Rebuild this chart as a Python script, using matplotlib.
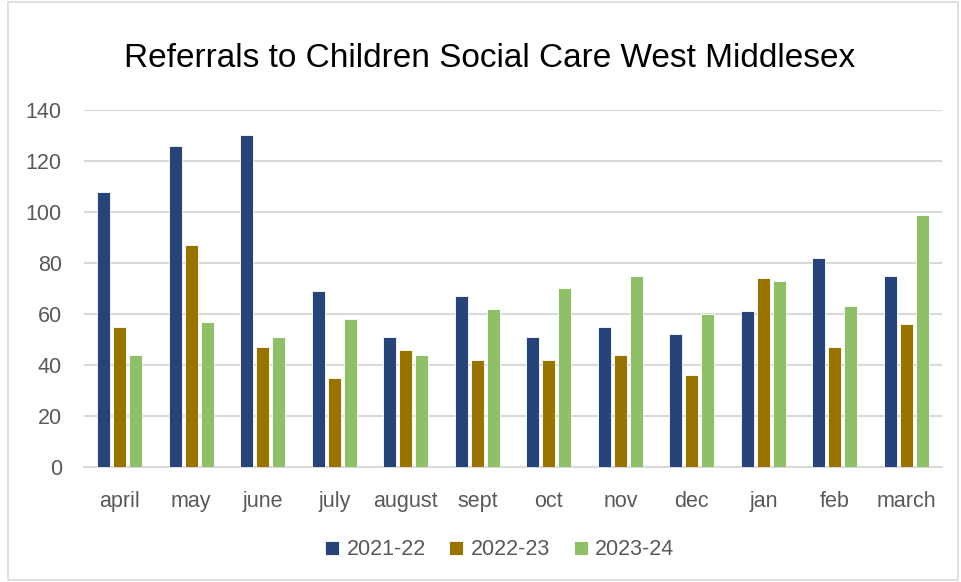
import numpy as np
from matplotlib import pyplot as plt
from matplotlib.patches import Rectangle

months = ['april', 'may', 'june', 'july', 'august', 'sept', 'oct',
          'nov', 'dec', 'jan', 'feb', 'march']
y2021_22 = [108, 126, 130, 69, 51, 67, 51, 55, 52, 61, 82, 75]
y2022_23 = [55, 87, 47, 35, 46, 42, 42, 44, 36, 74, 47, 56]
y2023_24 = [44, 57, 51, 58, 44, 62, 70, 75, 60, 73, 63, 99]
series = [('2021-22', y2021_22, '#264478'),
          ('2022-23', y2022_23, '#997300'),
          ('2023-24', y2023_24, '#8FBF68')]

plt.rcParams['font.family'] = ['Liberation Sans', 'DejaVu Sans']

fig = plt.figure(figsize=(9.61, 5.82), dpi=100)
ax = fig.add_axes([0.0874, 0.1976, 0.893, 0.6134])

x = np.arange(len(months))
width = 0.18
step = 0.224
for ii, (label, vals, color) in enumerate(series):
    ax.bar(x + (ii - 1) * step, vals, width, color=color, label=label,
           edgecolor='white', linewidth=0.6, zorder=3)

ax.set_xlim(-0.5, len(months) - 0.5)
ax.set_ylim(0, 140)
ax.set_yticks(range(0, 141, 20))
ax.set_xticks(x)
ax.set_xticklabels(months)
ax.yaxis.grid(True, color='#D9D9D9', linewidth=1.5, zorder=0)
for side in ['top', 'right', 'left']:
    ax.spines[side].set_visible(False)
ax.spines['bottom'].set_color('#D9D9D9')
ax.spines['bottom'].set_linewidth(1.5)
ax.tick_params(axis='both', length=0, labelsize=15.5, labelcolor='#595959')
ax.tick_params(axis='x', pad=17)
ax.tick_params(axis='y', pad=16)

fig.text(0.51, 0.9, 'Referrals to Children Social Care West Middlesex',
         ha='center', va='center', fontsize=24, color='black')

fig.legend(loc='center', bbox_to_anchor=(0.52, 0.055), ncol=3, frameon=False,
           fontsize=15.5, handlelength=0.65, handleheight=0.65, columnspacing=1.1,
           handletextpad=0.35, labelcolor='#595959')

# light frame round the whole chart
fig.patches.append(Rectangle((0.008, 0.003), 0.989, 0.994, transform=fig.transFigure,
                             fill=False, edgecolor='#D9D9D9', linewidth=1.2))

plt.savefig('out.png', dpi=100)
